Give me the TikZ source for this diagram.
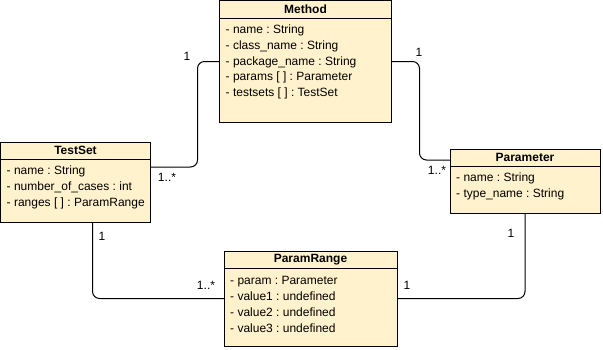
\documentclass[tikz,border=0pt]{standalone}
\usepackage{fontspec}
\setmainfont{Liberation Sans}
\usetikzlibrary{positioning}
\definecolor{classfill}{HTML}{FFF2CC}
\frenchspacing

\tikzset{
  classhead/.style={draw, fill=classfill, line width=1pt, outer sep=0pt, inner sep=0pt,
    anchor=north west, minimum height=17, font=\fontsize{12}{14}\selectfont\bfseries},
  classbody/.style={draw, fill=classfill, line width=1pt, outer sep=0pt, inner sep=0pt},
  attrs/.style={anchor=north west, align=left, inner xsep=6pt, inner ysep=7pt,
    font=\fontsize{12}{15.8}\selectfont},
  assoc/.style={draw, line width=1pt, rounded corners=7pt},
  mult/.style={inner sep=0pt, font=\fontsize{12}{14}\selectfont}
}

\begin{document}
\begin{tikzpicture}[x=1pt,y=-1pt]
  \useasboundingbox (0,0) rectangle (603,349);

  % classes
  \node[classhead, minimum width=172, minimum height=18] (me) at (219.5,0.5) {Method};
  \node[classbody, minimum width=172, minimum height=104, below=0pt of me] (meb) {};
  \node[attrs, inner ysep=6pt] (met) at (meb.north west) {- name : String\\- class\_name : String\\- package\_name : String\\- params [ ] : Parameter\\- testsets [ ] : TestSet};

  \node[classhead, minimum width=150] (ts) at (0.5,142) {TestSet};
  \node[classbody, minimum width=150, minimum height=63, below=0pt of ts] (tsb) {};
  \node[attrs] (tst) at (tsb.north west) {- name : String\\- number\_of\_cases : int\\- ranges [ ] : ParamRange};

  \node[classhead, minimum width=150] (pa) at (450,149) {Parameter};
  \node[classbody, minimum width=150, minimum height=47, below=0pt of pa] (pab) {};
  \node[attrs] (pat) at (pab.north west) {- name : String\\- type\_name : String};

  \node[classhead, minimum width=173] (pr) at (224,251) {ParamRange};
  \node[classbody, minimum width=173, minimum height=78, below=0pt of pr] (prb) {};
  \node[attrs, inner ysep=8.5pt] (prt) at (prb.north west) {- param : Parameter\\- value1 : undefined\\- value2 : undefined\\- value3 : undefined};

  % associations
  \draw[assoc] ([yshift=-8pt]tsb.north east) -- ++(47,0) |- ([yshift=9pt]meb.west);
  \draw[assoc] ([yshift=9pt]meb.east) -- ++(28,0) |- ([yshift=-2.5pt]pa.west);
  \draw[assoc] ([xshift=17pt]tsb.south) |- ([yshift=8.5pt]prb.west);
  \draw[assoc] (pab.south) |- ([yshift=8.5pt]prb.east);

  % multiplicities
  \node[mult] (m1) at (187,56)  {1};
  \node[mult] (m2) at (167,177) {1..*};
  \node[mult] (m3) at (419,52)  {1};
  \node[mult] (m4) at (437,170) {1..*};
  \node[mult] (m5) at (102,236) {1};
  \node[mult] (m6) at (206,285) {1..*};
  \node[mult] (m7) at (511,233) {1};
  \node[mult] (m8) at (407,285) {1};
\end{tikzpicture}
\end{document}
